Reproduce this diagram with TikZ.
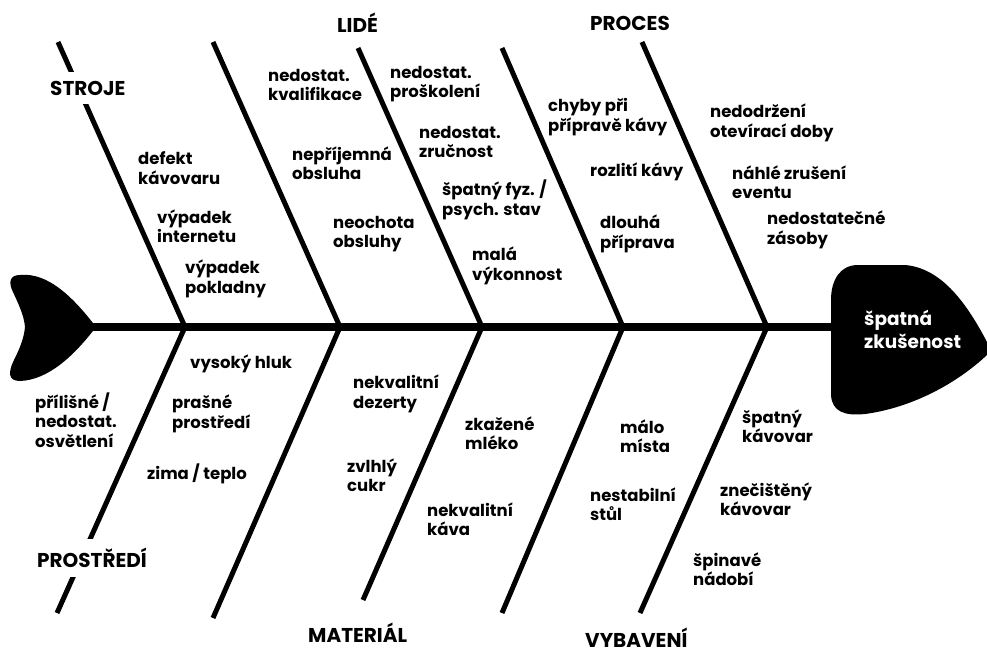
\documentclass[tikz,border=0pt]{standalone}
\usepackage{fontspec}
\setmainfont{Poppins}
\begin{document}
\begin{tikzpicture}[x=1pt,y=-1pt,
  bone/.style={line width=5pt},
  spineline/.style={line width=8pt},
  item/.style={anchor=west, align=left, inner sep=0pt, font=\fontsize{16.5}{19.5}\selectfont\bfseries},
  cat/.style={anchor=west, inner xsep=0pt, inner ysep=0pt, font=\fontsize{20}{24}\selectfont\bfseries},
  catgap/.style={cat, fill=white, inner ysep=9pt},
  headtext/.style={anchor=west, align=left, inner sep=0pt, text=white, font=\fontsize{18.5}{23}\selectfont\bfseries}]
\useasboundingbox (0,0) rectangle (987,653);
% spine junctions, bone tops and bottoms
\coordinate (j1) at (185,327);
\coordinate (j2) at (340,327);
\coordinate (j3) at (482,327);
\coordinate (j4) at (623,327);
\coordinate (j5) at (767,327);
\coordinate (t1) at (58,42);
\coordinate (t2) at (213,42);
\coordinate (t3) at (358,48);
\coordinate (t4) at (502,48);
\coordinate (t5) at (642,42);
\coordinate (b1) at (57,613);
\coordinate (b2) at (213,618);
\coordinate (b3) at (363,600);
\coordinate (b4) at (502,613);
\coordinate (b5) at (640,613);
\coordinate (spinestart) at (93,327);
\coordinate (spineend) at (834,327);
% bones
\foreach \i in {1,...,5} {
  \draw[bone] (t\i) -- (j\i);
  \draw[bone] (j\i) -- (b\i);
}
\draw[spineline] (spinestart) -- (spineend);
% tail
\fill (20,275) .. controls (48,272) and (74,298) .. (96,327)
  .. controls (74,356) and (48,380) .. (20,381)
  .. controls (8,381) and (8,372) .. (14,360)
  .. controls (20,348) and (24,338) .. (25,327)
  .. controls (24,315) and (18,303) .. (13,292)
  .. controls (8,282) and (10,275) .. (20,275) -- cycle;
% head
\fill (831,300) -- (831,395) .. controls (832,412) and (845,416) .. (865,414)
  .. controls (910,408) and (955,385) .. (987,355) -- (987,342)
  .. controls (965,300) and (940,268) .. (905,265) -- (858,265)
  .. controls (840,265) and (831,280) .. (831,300) -- cycle;
\node[headtext] (effect) at (864,329) {špatná\\zkušenost};
% category labels
\node[catgap] (stroje) at (50,88) {STROJE};
\node[cat] (lide) at (337,23) {LIDÉ};
\node[cat] (proces) at (590,23) {PROCES};
\node[catgap] (prostredi) at (37,558) {PROSTŘEDÍ};
\node[cat] (material) at (308,633) {MATERIÁL};
\node[cat] (vybaveni) at (585,638) {VYBAVENÍ};
% upper causes
\node[item] (s1) at (138,168) {defekt\\kávovaru};
\node[item] (s2) at (157,226) {výpadek\\internetu};
\node[item] (s3) at (185,279) {výpadek\\pokladny};
\node[item] (l1) at (268,85) {nedostat.\\kvalifikace};
\node[item] (l2) at (292,163) {nepříjemná\\obsluha};
\node[item] (l3) at (333,234) {neochota\\obsluhy};
\node[item] (l4) at (390,84) {nedostat.\\proškolení};
\node[item] (l5) at (419,142) {nedostat.\\zručnost};
\node[item] (l6) at (442,200) {špatný fyz. /\\psych. stav};
\node[item] (l7) at (472,266) {malá\\výkonnost};
\node[item] (p1) at (548,117) {chyby při\\přípravě kávy};
\node[item] (p2) at (590,172) {rozlití kávy};
\node[item] (p3) at (600,234) {dlouhá\\příprava};
\node[item] (p4) at (710,123) {nedodržení\\otevírací doby};
\node[item] (p5) at (732,182) {náhlé zrušení\\eventu};
\node[item] (p6) at (767,230) {nedostatečné\\zásoby};
% lower causes
\node[item] (e1) at (35,420) {přílišné /\\nedostat.\\osvětlení};
\node[item] (e2) at (190,364) {vysoký hluk};
\node[item] (e3) at (172,414) {prašné\\prostředí};
\node[item] (e4) at (147,474) {zima / teplo};
\node[item] (m1) at (353,394) {nekvalitní\\dezerty};
\node[item] (m2) at (347,475) {zvlhlý\\cukr};
\node[item] (m3) at (465,433) {zkažené\\mléko};
\node[item] (m4) at (427,519) {nekvalitní\\káva};
\node[item] (v1) at (620,436) {málo\\místa};
\node[item] (v2) at (590,504) {nestabilní\\stůl};
\node[item] (v3) at (742,426) {špatný\\kávovar};
\node[item] (v4) at (720,499) {znečištěný\\kávovar};
\node[item] (v5) at (693,569) {špinavé\\nádobí};
\end{tikzpicture}
\end{document}
